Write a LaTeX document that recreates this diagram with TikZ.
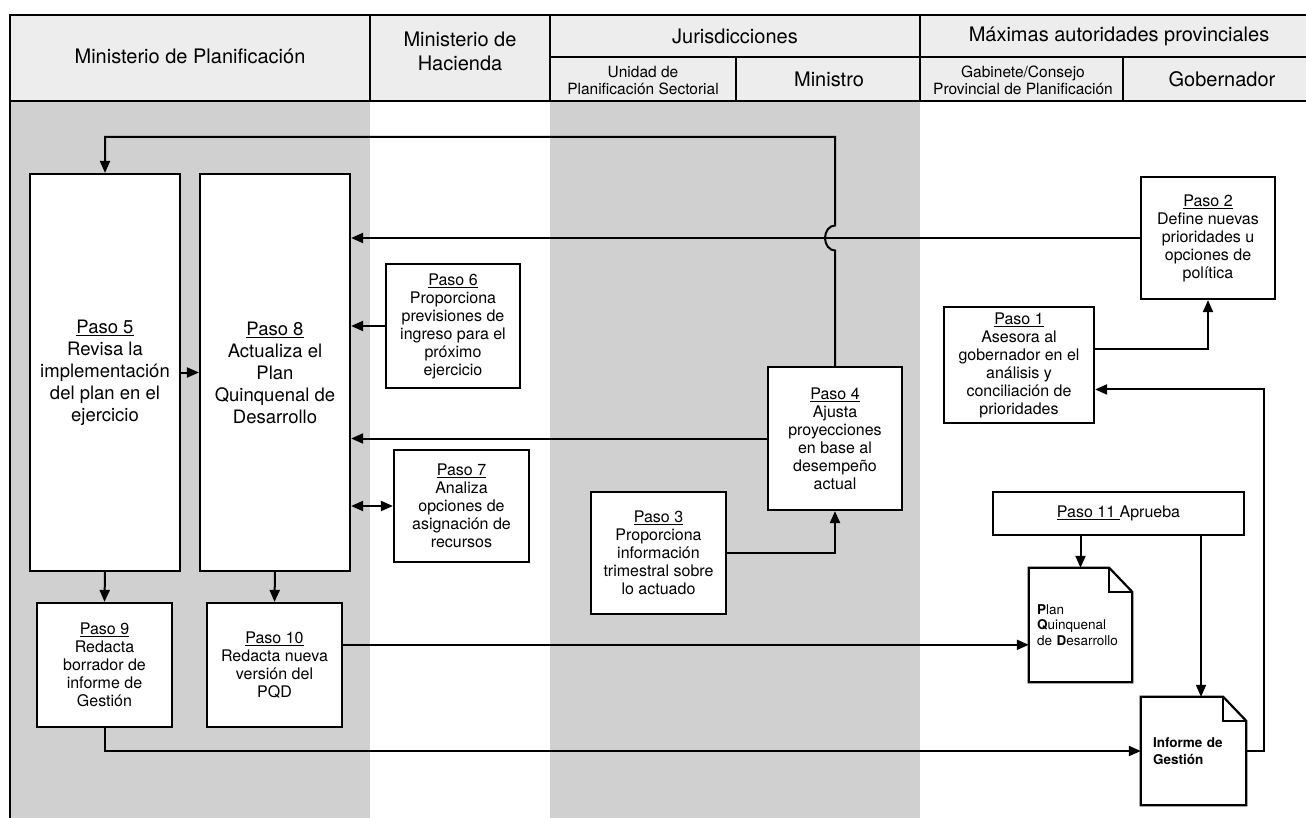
\documentclass[tikz,border=0pt]{standalone}
\usepackage{fontspec}
\setmainfont{TeX Gyre Heros}
\usetikzlibrary{arrows.meta,calc}
\definecolor{lanegray}{HTML}{D0D0D0}
\definecolor{headgray}{HTML}{EDEDED}
\tikzset{
  rule/.style={line width=2pt},
  headtxt/.style={align=center, font=\fontsize{20}{24}\selectfont},
  subtxt/.style={align=center, font=\fontsize{15.5}{17}\selectfont},
  stepbox/.style={draw, fill=white, line width=2.2pt, align=center, inner sep=1pt},
  bigbox/.style={stepbox, minimum width=150pt, minimum height=397pt, font=\fontsize{18.5}{22}\selectfont},
  smallbox/.style={stepbox, font=\fontsize{16}{18}\selectfont},
  docnode/.style={inner sep=0pt, align=left, font=\fontsize{13.5}{15.5}\selectfont},
  docline/.style={line width=2.2pt, line join=miter},
  conn/.style={line width=2pt},
  arr/.style={conn, -{Triangle[length=12pt,width=10pt]}},
  dblarr/.style={conn, {Triangle[length=12pt,width=10pt]}-{Triangle[length=12pt,width=10pt]}},
}
\newcommand{\paso}[1]{\underline{Paso #1}}
\newcommand{\folddoc}[1]{%
  \draw[docline] (#1.north west) -- ([xshift=-23pt]#1.north east)
    -- ([yshift=-24pt]#1.north east) -- (#1.south east) -- (#1.south west) -- cycle;
  \draw[docline] ([xshift=-23pt]#1.north east) -- ([xshift=-23pt,yshift=-24pt]#1.north east)
    -- ([yshift=-24pt]#1.north east);}
\begin{document}
\begin{tikzpicture}[x=1pt,y=-1pt]
\useasboundingbox (0,0) rectangle (1306,818);

% lanes and header band
\fill[headgray] (10,15) rectangle (1306,101);
\fill[lanegray] (10,101) rectangle (370,818);
\fill[lanegray] (550,101) rectangle (920,818);
\draw[rule] (10,818) -- (10,15) -- (1306,15);
\draw[rule] (10,101) -- (1306,101);
\draw[rule] (550,57) -- (1306,57);
\draw[rule] (370,15) -- (370,101);
\draw[rule] (550,15) -- (550,101);
\draw[rule] (920,15) -- (920,101);
\draw[rule] (736,57) -- (736,101);
\draw[rule] (1123,57) -- (1123,101);

% header labels
\node[headtxt] (hplan) at (190,56) {Ministerio de Planificación};
\node[headtxt] (hhac) at (460,51) {Ministerio de\\Hacienda};
\node[headtxt] (hjur) at (735,36) {Jurisdicciones};
\node[headtxt] (hmax) at (1119,36) {Máximas autoridades provinciales};
\node[subtxt] (hups) at (643,80) {Unidad de\\Planificación Sectorial};
\node[headtxt] (hmin) at (829,79) {Ministro};
\node[subtxt] (hgab) at (1023,80) {Gabinete/Consejo\\Provincial de Planificación};
\node[headtxt] (hgob) at (1222,79) {Gobernador};

% steps
\node[bigbox] (p5) at (105,372.5) {\paso{5}\\Revisa la\\implementación\\del plan en el\\ejercicio};
\node[bigbox] (p8) at (275,372.5) {\paso{8}\\Actualiza el\\Plan\\Quinquenal de\\Desarrollo};
\node[smallbox, minimum width=134pt, minimum height=124pt] (p6) at (453,326) {\paso{6}\\Proporciona\\previsiones de\\ingreso para el\\próximo\\ejercicio};
\node[smallbox, minimum width=135pt, minimum height=112pt] (p7) at (461.5,506) {\paso{7}\\Analiza\\opciones de\\asignación de\\recursos};
\node[smallbox, minimum width=135pt, minimum height=124pt] (p9) at (104.5,665) {\paso{9}\\Redacta\\borrador de\\informe de\\Gestión};
\node[smallbox, minimum width=135pt, minimum height=124pt] (p10) at (274.5,665) {\paso{10}\\Redacta nueva\\versión del\\PQD};
\node[smallbox, minimum width=135pt, minimum height=122pt] (p3) at (658.5,553) {\paso{3}\\Proporciona\\información\\trimestral sobre\\lo actuado};
\node[smallbox, minimum width=134pt, minimum height=143pt] (p4) at (835,438.5) {\paso{4}\\Ajusta\\proyecciones\\en base al\\desempeño\\actual};
\node[smallbox, minimum width=150pt, minimum height=116pt] (p1) at (1019,365) {\paso{1}\\Asesora al\\gobernador en el\\análisis y\\conciliación de\\prioridades};
\node[smallbox, minimum width=134pt, minimum height=122pt] (p2) at (1208,238) {\paso{2}\\Define nuevas\\prioridades u\\opciones de\\política};
\node[smallbox, minimum width=251pt, minimum height=43pt] (p11) at (1118.5,513.5) {\underline{Paso 11\ }Aprueba};

% documents
\node[docnode, minimum width=103pt, minimum height=114pt, text width=87pt] (pqd) at (1080.5,625)
  {\textbf{P}lan\\\textbf{Q}uinquenal\\de \textbf{D}esarrollo};
\node[docnode, minimum width=105pt, minimum height=108pt, text width=81pt, font=\fontsize{13.5}{16.5}\selectfont\bfseries] (inf) at (1193.5,751)
  {Informe de\\Gestión};
\folddoc{pqd}
\folddoc{inf}

% helper points
\coordinate (ytop) at (0,137);
\coordinate (p10out) at ($(p10.north east)!0.34!(p10.south east)$);
\coordinate (p1out) at ($(p1.north east)!0.362!(p1.south east)$);
\coordinate (p1in) at ($(p1.north east)!0.707!(p1.south east)$);
\coordinate (infin) at ($(inf.north)+(7.5,0)$);
\coordinate (hop) at ($(p4.north |- p2.west)+(0,12.5)$);

% connectors
\draw[arr] (p4.north) -- (hop)
  arc[start angle=270, end angle=90, x radius=10pt, y radius=12.5pt]
  -- (p4.north |- ytop) -- (p5.north |- ytop) -- (p5.north);
\draw[arr] (p2.west) -- (p2.west -| p8.east);
\draw[arr] (p6.west) -- (p6.west -| p8.east);
\draw[arr] (p4.west) -- (p4.west -| p8.east);
\draw[dblarr] (p7.west) -- (p7.west -| p8.east);
\draw[arr] (p5.east) -- (p5.east -| p8.west);
\draw[arr] (p5.south) -- (p9.north);
\draw[arr] (p8.south) -- (p10.north);
\draw[arr] (p10out) -- (p10out -| pqd.west);
\draw[arr] (p9.south) |- (inf.west);
\draw[arr] (p3.east) -| (p4.south);
\draw[arr] (p1out) -| (p2.south);
\draw[arr] (inf.east) -- ++(18,0) |- (p1in);
\draw[arr] (pqd.north |- p11.south) -- (pqd.north);
\draw[arr] (infin |- p11.south) -- (infin);
\end{tikzpicture}
\end{document}
